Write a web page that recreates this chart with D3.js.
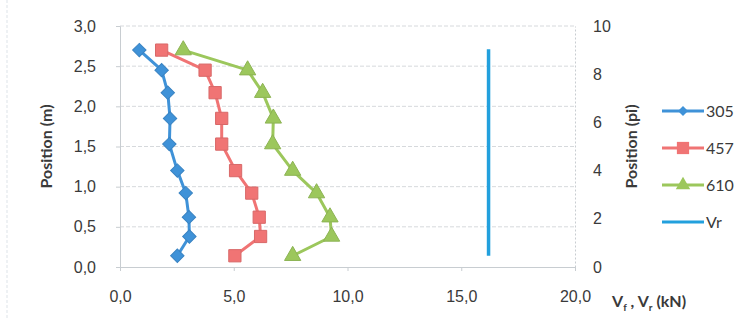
<!DOCTYPE html>
<html>
<head>
<meta charset="utf-8">
<script src="https://cdn.jsdelivr.net/npm/d3@7"></script>
<style>
  body { margin: 0; background: #fff; }
  svg { font-family: Lato, "Open Sans", sans-serif; }
</style>
</head>
<body>
<div id="display"></div>
<script>
// positions (m) of the measuring points, top to bottom
const positions = [2.70, 2.45, 2.17, 1.85, 1.53, 1.20, 0.92, 0.62, 0.38, 0.14];
const v305 = [0.85, 1.83, 2.10, 2.20, 2.17, 2.52, 2.89, 3.03, 3.05, 2.52];
const v457 = [1.83, 3.74, 4.18, 4.47, 4.47, 5.08, 5.79, 6.12, 6.18, 5.05];
const v610 = [2.78, 5.61, 6.27, 6.74, 6.71, 7.59, 8.64, 9.23, 9.30, 7.59];
const vrValue = [16.2, 16.2];
const vrPos = [2.71, 0.14];

const xTicks = [0, 5, 10, 15, 20];
const yTicks = [0, 0.5, 1, 1.5, 2, 2.5, 3];
const y2Ticks = [0, 2, 4, 6, 8, 10];

// diamond = square turned 45 degrees, size is the symbol area
const series = [
  {name: '305', values: v305, color: '#3f92d8', marker: d3.symbolSquare, rot: 45, size: 90, lsize: 50},
  {name: '457', values: v457, color: '#f07474', marker: d3.symbolSquare, rot: 0, size: 150, lsize: 150},
  {name: '610', values: v610, color: '#9cc75c', marker: d3.symbolTriangle, rot: 0, size: 115, lsize: 90},
];
const vrColor = '#22a0dd';
const textColor = '#3a3a3a';

const width = 745;
const height = 320;
const margin = {top: 26, right: 170, bottom: 53, left: 120};

const svg = d3.select('#display').append('svg')
    .attr('width', width)
    .attr('height', height);

const x = d3.scaleLinear().domain([0, 20]).range([margin.left, width - margin.right]);
const y = d3.scaleLinear().domain([0, 3]).range([height - margin.bottom, margin.top]);
const y2 = d3.scaleLinear().domain([0, 10]).range([height - margin.bottom, margin.top]);

const fmt = (d) => d.toFixed(1).replace('.', ',');

// faint chart border on the left
svg.append('line')
    .attr('x1', 7).attr('x2', 7).attr('y1', 0).attr('y2', height)
    .attr('stroke', '#dde3e8').attr('stroke-dasharray', '3,2');

// gridlines
svg.append('g')
    .selectAll('line')
    .data(yTicks.slice(1))
    .enter()
    .append('line')
    .attr('x1', x(0)).attr('x2', x(20))
    .attr('y1', (d) => y(d)).attr('y2', (d) => y(d))
    .attr('stroke', '#d6d9dc')
    .attr('stroke-dasharray', '4,2');

// bottom axis
const xAxis = svg.append('g')
    .attr('transform', 'translate(0,' + y(0) + ')')
    .call(d3.axisBottom(x).tickValues(xTicks).tickFormat(fmt).tickSize(4).tickPadding(20));
xAxis.select('.domain').attr('stroke', '#c8cdd1');
xAxis.selectAll('.tick line').attr('stroke', '#c8cdd1');
xAxis.selectAll('text').attr('font-size', 16).attr('fill', textColor);

// left axis
const yAxis = svg.append('g')
    .attr('transform', 'translate(' + x(0) + ',0)')
    .call(d3.axisLeft(y).tickValues(yTicks).tickFormat(fmt).tickSize(4).tickPadding(20));
yAxis.select('.domain').attr('stroke', '#c8cdd1');
yAxis.selectAll('.tick line').attr('stroke', '#c8cdd1');
yAxis.selectAll('text').attr('font-size', 16).attr('fill', textColor);

// right axis
const y2Axis = svg.append('g')
    .attr('transform', 'translate(' + x(20) + ',0)')
    .call(d3.axisRight(y2).tickValues(y2Ticks).tickSize(0).tickPadding(18));
y2Axis.select('.domain').attr('stroke', '#c8cdd1').attr('stroke-dasharray', '2,2');
y2Axis.selectAll('text').attr('font-size', 16).attr('fill', textColor);

// axis titles
svg.append('text')
    .attr('transform', 'translate(52,' + y(1.5) + ') rotate(-90)')
    .attr('text-anchor', 'middle')
    .attr('font-size', 16).attr('font-weight', 'bold').attr('fill', textColor)
    .text('Position (m)');

svg.append('text')
    .attr('transform', 'translate(637,' + y(1.5) + ') rotate(-90)')
    .attr('text-anchor', 'middle')
    .attr('font-size', 16).attr('font-weight', 'bold').attr('fill', textColor)
    .text('Position (pi)');

const xTitle = svg.append('text')
    .attr('x', 612).attr('y', y(0) + 40)
    .attr('font-size', 16).attr('font-weight', 'bold').attr('fill', textColor);
xTitle.append('tspan').text('V');
xTitle.append('tspan').attr('font-size', 10).attr('dy', 4).text('f');
xTitle.append('tspan').attr('dy', -4).text(' , V');
xTitle.append('tspan').attr('font-size', 10).attr('dy', 4).text('r');
xTitle.append('tspan').attr('dy', -4).text(' (kN)');

// series lines and markers
const line = d3.line()
    .x((d) => x(d[0]))
    .y((d) => y(d[1]));

for (const s of series) {
  const pts = s.values.map((v, i) => [v, positions[i]]);
  svg.append('path')
      .datum(pts)
      .attr('fill', 'none')
      .attr('stroke', s.color)
      .attr('stroke-width', 3)
      .attr('stroke-linejoin', 'round')
      .attr('d', line);
  svg.append('g')
      .selectAll('path')
      .data(pts)
      .enter()
      .append('path')
      .attr('transform', (d) => 'translate(' + x(d[0]) + ',' + y(d[1]) + ') rotate(' + s.rot + ')')
      .attr('d', d3.symbol().type(s.marker).size(s.size))
      .attr('fill', s.color)
      .attr('stroke', d3.color(s.color).darker(0.3))
      .attr('stroke-width', 1);
}

// Vr line
svg.append('path')
    .datum(vrValue.map((v, i) => [v, vrPos[i]]))
    .attr('fill', 'none')
    .attr('stroke', vrColor)
    .attr('stroke-width', 3.5)
    .attr('d', line);

// legend
const legendItems = series.concat([{name: 'Vr', color: vrColor, marker: null}]);
const legend = svg.append('g').attr('transform', 'translate(662,111)');
legendItems.forEach((s, i) => {
  const g = legend.append('g').attr('transform', 'translate(0,' + (i * 37) + ')');
  g.append('line')
      .attr('x1', 0).attr('x2', 42)
      .attr('stroke', s.color).attr('stroke-width', 3);
  if (s.marker) {
    g.append('path')
        .attr('transform', 'translate(21,0) rotate(' + s.rot + ')')
        .attr('d', d3.symbol().type(s.marker).size(s.lsize))
        .attr('fill', s.color);
  }
  g.append('text')
      .attr('x', 44).attr('dy', '0.35em')
      .attr('font-size', 16).attr('fill', textColor)
      .text(s.name);
});
</script>
</body>
</html>
